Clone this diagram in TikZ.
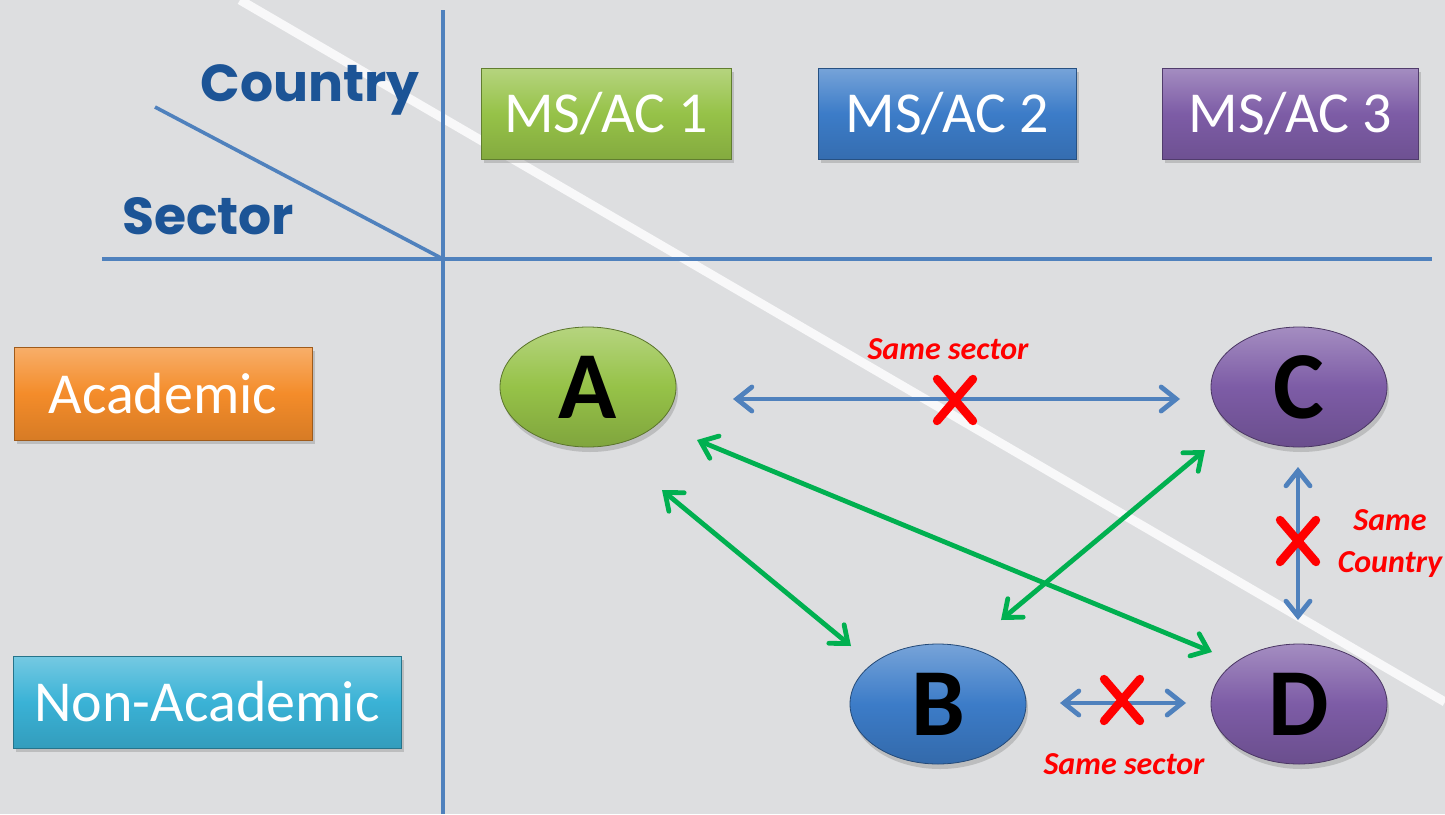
\documentclass[tikz,border=0pt]{standalone}
\usepackage{fontspec}
\setmainfont{Carlito}
\newfontfamily\comic{Poppins}
\usetikzlibrary{arrows.meta,shadows,calc,shapes.geometric}
\definecolor{bg}{RGB}{221,222,224}
\definecolor{axisblue}{RGB}{79,129,189}
\definecolor{titleblue}{RGB}{28,84,150}
\definecolor{msgreen}{RGB}{150,194,72}
\definecolor{msblue}{RGB}{60,124,200}
\definecolor{mspurple}{RGB}{125,92,166}
\definecolor{msorange}{RGB}{244,140,42}
\definecolor{mscyan}{RGB}{58,178,214}
\definecolor{arrgreen}{RGB}{0,176,80}
\tikzset{
  axis/.style={draw=axisblue, line width=1.8pt},
  hdr/.style={font=\comic\bfseries\fontsize{26}{30}\selectfont, text=titleblue, anchor=base},
  box/.style={rectangle, minimum height=45.5pt, text=white, inner sep=0pt,
    font=\fontsize{29}{32}\selectfont,
    top color=#1!70!white, bottom color=#1!88!black, middle color=#1,
    draw=#1!65!black, line width=0.4pt,
    drop shadow={opacity=0.35, shadow xshift=1.5pt, shadow yshift=-2pt}},
  ell/.style={ellipse, minimum width=88pt, minimum height=60pt, inner sep=0pt,
    font=\bfseries\fontsize{48}{50}\selectfont, text=black,
    top color=#1!70!white, bottom color=#1!85!black, middle color=#1,
    draw=#1!60!black, line width=0.4pt,
    drop shadow={opacity=0.35, shadow xshift=1pt, shadow yshift=-2.5pt}},
  barr/.style={draw=axisblue, line width=2.4pt, {Straight Barb[length=7.5pt,width=12pt,line cap=round]}-{Straight Barb[length=7.5pt,width=12pt,line cap=round]}},
  garr/.style={draw=arrgreen, line width=2.4pt, {Straight Barb[length=7.5pt,width=12pt,line cap=round]}-{Straight Barb[length=7.5pt,width=12pt,line cap=round]}},
  redx/.style={draw=red, line width=4.2pt, line cap=round},
  note/.style={text=red, font=\bfseries\itshape\fontsize{16}{19}\selectfont, inner sep=0pt}
}
\begin{document}
\begin{tikzpicture}[x=0.5pt,y=-0.5pt]
\fill[bg] (0,0) rectangle (1445,814);
\useasboundingbox (0,0) rectangle (1445,814);
% white diagonal
\draw[white!80!bg, line width=4.5pt] (240,0) -- (1445,702);
% axes
\draw[axis] (443,10) -- (443,814);
\draw[axis] (102,259) -- (1432,259);
\draw[axis] (155,107) -- (443,259);
\node[hdr] (country) at (310,101) {Country};
\node[hdr] (sector) at (208,234) {Sector};
% header boxes
\node[box=msgreen, minimum width=125pt] (ms1) at (606,113.5) {MS/AC 1};
\node[box=msblue, minimum width=129pt] (ms2) at (947,113.5) {MS/AC 2};
\node[box=mspurple, minimum width=128pt] (ms3) at (1290,113.5) {MS/AC 3};
\node[box=msorange, minimum width=149pt, minimum height=46.5pt] (acad) at (163,393.5) {Academic};
\node[box=mscyan, minimum width=194pt, minimum height=46pt] (nacad) at (207,702) {Non-Academic};
% ellipses
\node[ell=msgreen] (A) at (588,387) {A};
\node[ell=mspurple] (C) at (1299,387) {C};
\node[ell=msblue] (B) at (938,704) {B};
\node[ell=mspurple] (D) at (1299,704) {D};
% blue arrows
\draw[barr] ($(A)+(145,12)$) -- ($(C)+(-119,12)$);
\draw[barr] ($(C)+(-1,80)$) -- ($(D)+(-1,-84)$);
\draw[barr] ($(B)+(122,-1)$) -- ($(D)+(-113,-1)$);
% green arrows
\draw[garr] ($(A)+(74,103)$) -- ($(B)+(-87,-58)$);
\draw[garr] ($(A)+(109,53)$) -- ($(D)+(-87,-52)$);
\draw[garr] ($(C)+(-94,63)$) -- ($(B)+(63,-84)$);
% red crosses
\coordinate (x1) at (955,400);
\coordinate (x2) at (1298,541);
\coordinate (x3) at (1122,700);
\foreach \c in {x1,x2,x3}{
  \draw[redx] ($(\c)+(-18,-21)$) -- ($(\c)+(18,21)$);
  \draw[redx] ($(\c)+(18,-21)$) -- ($(\c)+(-18,21)$);
}
\node[note] (n1) at (948,349) {Same sector};
\node[note] (n2) at (1124,764) {Same sector};
\node[note, align=center] (n3) at (1390,544) {Same\\[2pt]Country};
\end{tikzpicture}
\end{document}
